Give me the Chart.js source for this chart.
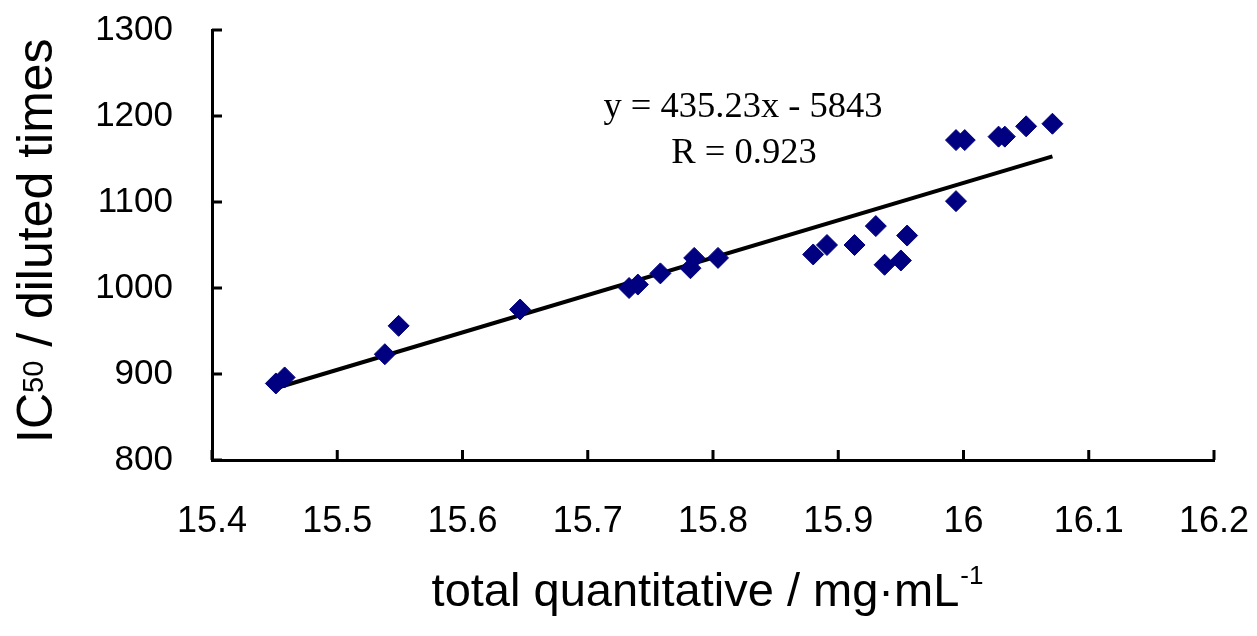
<!DOCTYPE html>
<html lang="en">
<head>
  <meta charset="UTF-8">
  <title>IC50 vs total quantitative</title>
  <script src="https://cdn.jsdelivr.net/npm/chart.js"></script>
  <style>
    body { margin: 0; background: #fff; }
  </style>
</head>
<body>
  <canvas id="grafico" width="1257" height="636"></canvas>

  <script>
    // sample points
    const totale = [15.451, 15.458, 15.538, 15.549, 15.646, 15.733, 15.740, 15.758, 15.782, 15.785,
                    15.804, 15.880, 15.891, 15.913, 15.930, 15.937, 15.950, 15.955, 15.994, 15.994,
                    16.001, 16.028, 16.033, 16.050, 16.071];
    const ic50 = [889, 896, 923, 956, 975, 1000, 1004, 1017, 1023, 1035,
                  1035, 1039, 1050, 1050, 1072, 1027, 1032, 1061, 1101, 1172,
                  1172, 1176, 1176, 1188, 1191];
    // ends of the fitted line
    const lineaX = [15.452, 16.071];
    const lineaY = [884, 1153];
    const equazione = 'y = 435.23x - 5843';
    const erre = 'R = 0.923';

    const punti = totale.map((x, i) => ({ x: x, y: ic50[i] }));
    const linea = lineaX.map((x, i) => ({ x: x, y: lineaY[i] }));

    // inward tick marks + axis titles + equation text
    const extra = {
      id: 'extra',
      afterDraw(chart) {
        const c = chart.ctx, a = chart.chartArea;
        const sx = chart.scales.x, sy = chart.scales.y;
        c.save();
        c.strokeStyle = '#000';
        c.lineWidth = 3;
        c.beginPath();
        sx.getTicks().forEach(t => {
          const px = sx.getPixelForValue(t.value);
          c.moveTo(px, a.bottom); c.lineTo(px, a.bottom - 10);
        });
        sy.getTicks().forEach(t => {
          const py = sy.getPixelForValue(t.value);
          c.moveTo(a.left, py); c.lineTo(a.left + 10, py);
        });
        c.stroke();

        c.fillStyle = '#000';
        // equation
        c.font = '36.5px "Liberation Serif"';
        c.textAlign = 'center';
        c.textBaseline = 'alphabetic';
        c.fillText(equazione, 743, 117);
        c.fillText(erre, 744, 163);

        // x title with superscript
        c.textAlign = 'left';
        const base = 'total quantitative / mg\u00b7mL';
        c.font = '47px "Liberation Sans"';
        const w1 = c.measureText(base).width;
        c.font = '26px "Liberation Sans"';
        const w2 = c.measureText('-1').width;
        const x0 = (a.left + a.right) / 2 - 6 - (w1 + w2) / 2;
        c.font = '47px "Liberation Sans"';
        c.fillText(base, x0, 606);
        c.font = '26px "Liberation Sans"';
        c.fillText('-1', x0 + w1 + 1, 584);

        // y title, rotated, with small "50"
        c.translate(52, 443);
        c.rotate(-Math.PI / 2);
        c.font = '50px "Liberation Sans"';
        c.fillText('IC', 0, 0);
        let w = c.measureText('IC').width;
        c.font = '29px "Liberation Sans"';
        c.fillText('50', w, -9);
        w += c.measureText('50').width;
        c.font = '50px "Liberation Sans"';
        c.fillText(' / diluted times', w, 0);
        c.restore();
      }
    };

    const azzera = s => { s.paddingTop = 0; s.paddingBottom = 0; s.paddingLeft = 0; s.paddingRight = 0; };

    const ctx = document.getElementById('grafico').getContext('2d');
    const grafico = new Chart(ctx, {
      type: 'scatter',
      data: {
        datasets: [
          {
            label: 'campioni', data: punti,
            pointStyle: 'rectRot', pointRadius: 10.5,
            backgroundColor: '#000080', borderColor: '#000080', borderWidth: 1
          },
          {
            type: 'line', label: 'fit', data: linea,
            borderColor: '#000', borderWidth: 4, pointRadius: 0, fill: false
          }
        ]
      },
      options: {
        responsive: false,
        animation: false,
        layout: { padding: { top: 30, right: 43, left: 0, bottom: 0 } },
        plugins: { legend: { display: false }, tooltip: { enabled: false } },
        scales: {
          x: {
            type: 'linear', min: 15.4, max: 16.2,
            afterFit: s => { s.height = 176; azzera(s); },
            grid: { display: false, drawTicks: false },
            border: { display: true, color: '#000', width: 3 },
            ticks: {
              stepSize: 0.1, padding: 40, color: '#000',
              font: { family: 'Liberation Sans', size: 36 },
              callback: v => String(Number(v.toFixed(1)))
            }
          },
          y: {
            min: 800, max: 1300,
            afterFit: s => { s.width = 212; azzera(s); },
            grid: { display: false, drawTicks: false },
            border: { display: true, color: '#000', width: 3 },
            ticks: {
              stepSize: 100, padding: 39, color: '#000',
              font: { family: 'Liberation Sans', size: 35 },
              callback: v => String(v)
            }
          }
        }
      },
      plugins: [extra]
    });
  </script>
</body>
</html>
